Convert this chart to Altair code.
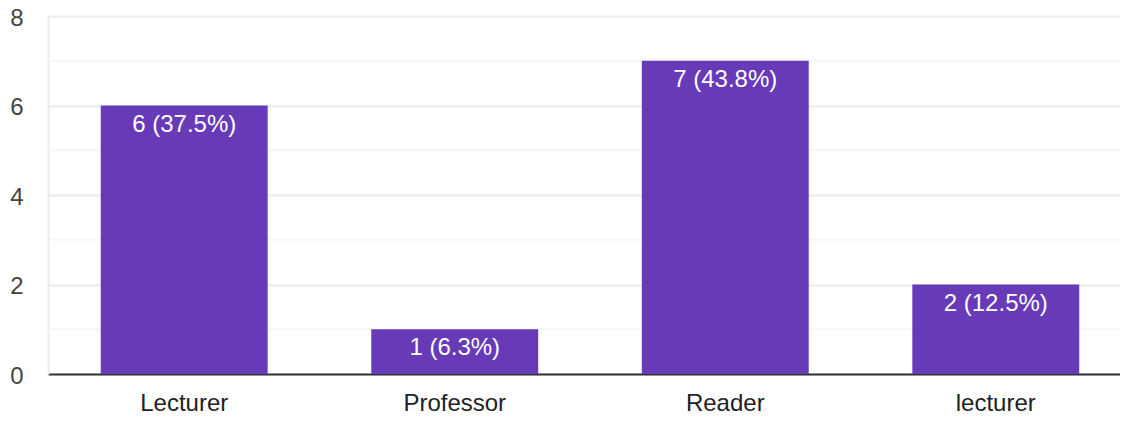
import altair as alt
import pandas as pd

categories = ["Lecturer", "Professor", "Reader", "lecturer"]
counts = [6, 1, 7, 2]
labels = ["6 (37.5%)", "1 (6.3%)", "7 (43.8%)", "2 (12.5%)"]
major_ticks = [0, 2, 4, 6, 8]
minor_ticks = [1, 3, 5, 7]

df = pd.DataFrame({"cat": categories, "count": counts, "label": labels})
minor_df = pd.DataFrame({"v": minor_ticks})

FONT = "Liberation Sans"

xscale = alt.Scale(domain=categories, range=[0, 1084], paddingInner=0.383, paddingOuter=0.195)
yscale = alt.Scale(domain=[0, 8], nice=False)

minor = alt.Chart(minor_df).mark_rule(color="#f4f4f4", strokeWidth=1.5).encode(
    y=alt.Y("v:Q", scale=yscale),
    x=alt.value(0),
    x2=alt.value(1084),
)

bars = alt.Chart(df).mark_bar(color="#673ab7").encode(
    x=alt.X("cat:N", scale=xscale, sort=categories,
            axis=alt.Axis(title=None, labelAngle=0, labelFontSize=24, labelColor="#222",
                          labelFont=FONT, labelPadding=17, ticks=False,
                          domainColor="#333", domainWidth=2, grid=False)),
    y=alt.Y("count:Q", scale=yscale,
            axis=alt.Axis(title=None, values=major_ticks, labelFontSize=24, labelColor="#444",
                          labelFont=FONT, labelPadding=25, ticks=False, labelOffset=2,
                          labelFlush=False, labelOverlap=False,
                          domainColor="#ebebeb", domainWidth=2,
                          gridColor="#ebebeb", gridWidth=2)),
)

text = alt.Chart(df).mark_text(color="white", fontSize=24, font=FONT, baseline="middle", dy=19).encode(
    x=alt.X("cat:N", scale=xscale, sort=categories),
    y=alt.Y("count:Q", scale=yscale),
    text="label:N",
)

chart = alt.layer(minor, bars, text).properties(
    width=1072, height=358,
    autosize=alt.AutoSizeParams(type="none"),
    padding={"left": 40, "top": 8, "right": 0, "bottom": 47},
).configure_view(stroke=None).configure(background="white")

chart.save("out.html", embed_options={"renderer": "svg", "actions": False})
